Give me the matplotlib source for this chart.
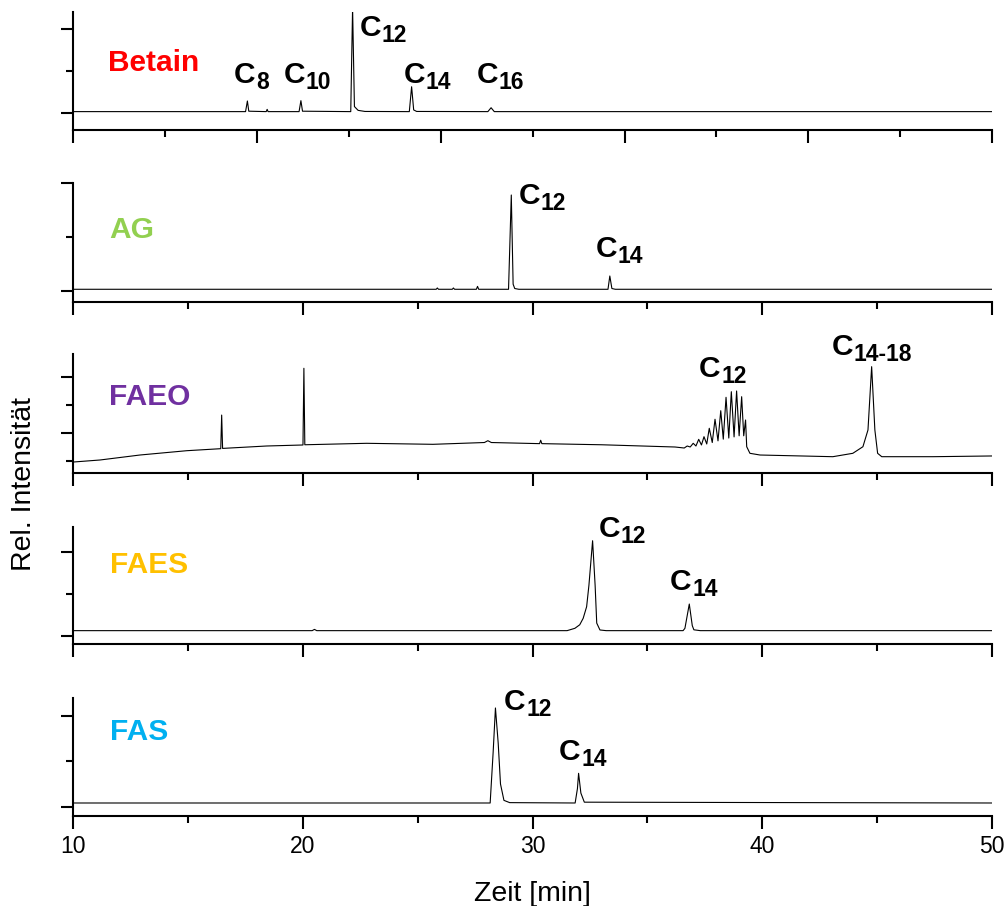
import matplotlib
matplotlib.use("Agg")
import matplotlib.pyplot as plt

plt.rcParams['font.family'] = ['Liberation Sans', 'DejaVu Sans']

# chromatogram traces (time in min, relative intensity)
betain_t = [10, 17.5, 17.58, 17.64, 18.4, 18.44, 18.48, 19.83, 19.91, 19.98,
            22.08, 22.16, 22.24, 22.4, 22.7, 24.63, 24.73, 24.82, 24.95,
            28.05, 28.19, 28.33, 50]
betain_v = [0.02, 0.02, 0.146, 0.025, 0.02, 0.047, 0.02, 0.02, 0.15, 0.025,
            0.02, 1.25, 0.08, 0.035, 0.022, 0.02, 0.315, 0.04, 0.022,
            0.02, 0.066, 0.02, 0.02]

ag_t = [10, 25.8, 25.85, 25.9, 26.5, 26.55, 26.6, 27.55, 27.6, 27.65,
        28.95, 29.07, 29.15, 29.22, 29.4, 33.28, 33.36, 33.45, 33.6, 50]
ag_v = [0.013, 0.013, 0.025, 0.013, 0.013, 0.025, 0.013, 0.013, 0.04, 0.013,
        0.013, 0.886, 0.06, 0.02, 0.013, 0.013, 0.136, 0.02, 0.013, 0.013]

faeo_t = [10.0, 11.16, 12.9, 14.94, 16.42, 16.46, 16.5, 18.42, 20.0, 20.04, 20.08,
          22.77, 25.66, 27.9, 28.05, 28.2, 30.3, 30.35, 30.4, 33.0, 36.2, 36.6,
          36.73, 36.86, 36.99, 37.11, 37.23, 37.35, 37.46, 37.58, 37.69, 37.82,
          37.94, 38.07, 38.19, 38.3, 38.42, 38.54, 38.65, 38.77, 38.88, 38.99,
          39.10, 39.19, 39.27, 39.32, 39.46, 39.9, 43.07, 43.94, 44.38, 44.6,
          44.76, 44.9, 45.02, 45.2, 47.43, 50.0]
faeo_v = [-0.518, -0.482, -0.393, -0.316, -0.28, 0.32, -0.275, -0.232, -0.214, 1.155, -0.21,
          -0.184, -0.202, -0.17, -0.1375, -0.17, -0.19, -0.13, -0.19, -0.21, -0.25, -0.268,
          -0.232, -0.25, -0.184, -0.232, -0.113, -0.214, -0.066, -0.196, 0.084, -0.17,
          0.245, -0.14, 0.398, -0.11, 0.637, -0.09, 0.737, -0.07, 0.75, -0.05,
          0.648, -0.05, 0.232, -0.245, -0.3625, -0.393, -0.423, -0.3625, -0.245, 0.054,
          1.184, 0.054, -0.3625, -0.423, -0.423, -0.41]

faes_t = [10, 20.4, 20.5, 20.6, 31.5, 31.84, 32.05, 32.2, 32.35, 32.45, 32.61,
          32.72, 32.79, 32.93, 33.2, 36.55, 36.63, 36.82, 36.95, 37.02, 37.3, 50]
faes_v = [0.06, 0.06, 0.075, 0.06, 0.06, 0.088, 0.13, 0.207, 0.345, 0.6, 1.131,
          0.6, 0.15, 0.068, 0.06, 0.06, 0.088, 0.377, 0.12, 0.07, 0.06, 0.06]

fas_t = [10, 28.15, 28.28, 28.38, 28.5, 28.6, 28.75, 29.0, 31.85, 31.95, 32.0,
         32.1, 32.25, 50]
fas_v = [0.041, 0.041, 0.6, 1.088, 0.7, 0.25, 0.07, 0.045, 0.041, 0.2, 0.368,
         0.15, 0.05, 0.041]

names = ['Betain', 'AG', 'FAEO', 'FAES', 'FAS']
name_colors = ['#FF0000', '#92D050', '#7030A0', '#FFC000', '#00B0F0']
name_pos = [(11.51, 0.50), (11.57, 0.485), (11.57, 0.5), (11.6, 0.75), (11.6, 0.735)]
traces_t = [betain_t, ag_t, faeo_t, faes_t, fas_t]
traces_v = [betain_v, ag_v, faeo_v, faes_v, fas_v]

# peak labels: subscript, time, intensity
peak_labels = [
    [('8', 17.0, 0.356), ('10', 19.15, 0.36), ('12', 22.46, 0.92),
     ('14', 24.37, 0.356), ('16', 27.55, 0.356)],
    [('12', 29.39, 0.80), ('14', 32.74, 0.309)],
    [('12', 37.25, 0.995), ('14-18', 43.02, 1.39)],
    [('12', 32.86, 1.18), ('14', 35.98, 0.544)],
    [('12', 28.75, 1.066), ('14', 31.15, 0.515)],
]

ylims = [(-0.198, 1.205), (-0.102, 1.0), (-0.714, 1.41), (-0.099, 1.298), (-0.099, 1.198)]
y_major = [[0, 1], [0, 1], [0, 1], [0, 1], [0, 1]]
y_minor = [[0.5], [0.5], [-0.5, 0.5], [0.5], [0.5]]

# panel bottom / top in pixels (from top of the image)
W, H = 1007, 906
panel_px = [(130, 11.7), (301.7, 182.7), (473, 354), (644, 526.7), (815.7, 698)]
x0, x1 = 73.3, 992

fig = plt.figure(figsize=(W / 100, H / 100), dpi=100)

for i in range(5):
    b, t = panel_px[i]
    ax = fig.add_axes([x0 / W, 1 - b / H, (x1 - x0) / W, (b - t) / H])
    ax.plot(traces_t[i], traces_v[i], color='black', lw=0.8)
    ax.set_xlim(10, 50)
    ax.set_ylim(*ylims[i])
    for s in ['top', 'right']:
        ax.spines[s].set_visible(False)
    for s in ['left', 'bottom']:
        ax.spines[s].set_linewidth(1.5)
    ax.set_yticks(y_major[i])
    ax.set_yticks(y_minor[i], minor=True)
    ax.set_yticklabels([])
    if i == 0:
        ax.set_xticks([10, 18, 26, 34, 42, 50])
        ax.set_xticks([14, 22, 30, 38, 46], minor=True)
    else:
        ax.set_xticks([10, 20, 30, 40, 50])
        ax.set_xticks([15, 25, 35, 45], minor=True)
    ax.tick_params(which='major', direction='out', length=9, width=1.5)
    ax.tick_params(which='minor', direction='out', length=4.8, width=1.5)
    if i < 4:
        ax.set_xticklabels([])
    else:
        ax.tick_params(axis='x', labelsize=16.5, pad=5)

    ax.text(name_pos[i][0], name_pos[i][1], names[i], color=name_colors[i],
            fontsize=21.5, fontweight='bold', ha='left', va='baseline')
    for sub, pt, pv in peak_labels[i]:
        ax.text(pt, pv, 'C', fontsize=21.5, fontweight='bold', ha='left',
                va='baseline', clip_on=False)
        ax.annotate(sub, xy=(pt, pv), xytext=(16, -4.3), textcoords='offset points',
                    fontsize=16.5, fontweight='bold', ha='left', va='baseline',
                    annotation_clip=False)

fig.text(532 / W, 1 - 901 / H, 'Zeit [min]', fontsize=20.5, ha='center', va='baseline')
fig.text(24 / W, 1 - 484 / H, 'Rel. Intensität', fontsize=20.5, rotation=90,
         ha='center', va='center')

fig.savefig('out.png', dpi=100)
